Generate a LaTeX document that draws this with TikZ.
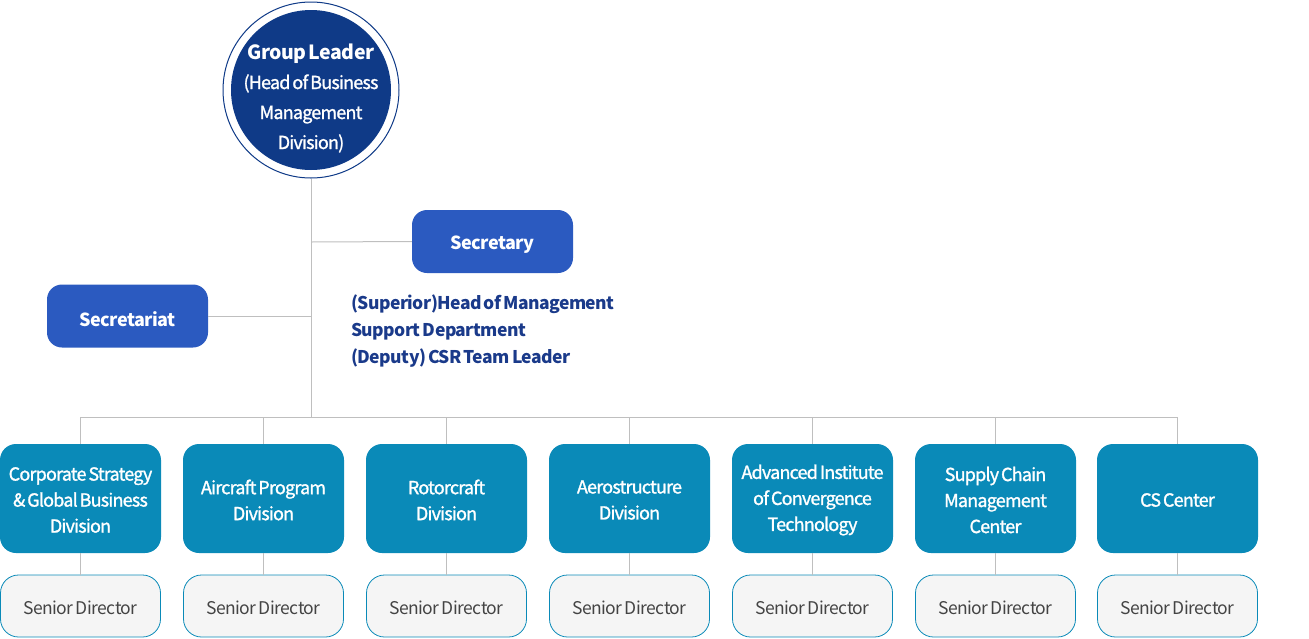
\documentclass[tikz,border=0pt]{standalone}
\usepackage{fontspec}
\setmainfont{Noto Sans CJK KR}
\newfontfamily\medf{Noto Sans CJK KR}[LetterSpace=-4.5,WordSpace=0.6,FakeBold=1.3]
\newfontfamily\bldf{Noto Sans CJK KR}[LetterSpace=-3,WordSpace=0.65]
\newfontfamily\regf{Noto Sans CJK KR}[LetterSpace=-3,WordSpace=0.6]
\definecolor{navy}{HTML}{0F3A87}
\definecolor{secblue}{HTML}{2B5AC0}
\definecolor{divblue}{HTML}{0A8AB8}
\definecolor{txtblue}{HTML}{1A3A8A}
\definecolor{linegray}{HTML}{BFBFBF}
\definecolor{sdfill}{HTML}{F5F5F5}
\definecolor{sdtext}{HTML}{444444}
\tikzset{
  conn/.style={draw=linegray, line width=1pt},
  secbox/.style={rectangle, rounded corners=15pt, fill=secblue, minimum width=161pt, minimum height=63pt, inner sep=0pt},
  sectext/.style={text=white, font=\bldf\bfseries\fontsize{18}{22}\selectfont, inner sep=0pt},
  divbox/.style={rectangle, rounded corners=16pt, fill=divblue, minimum width=161pt, minimum height=109pt, inner sep=0pt},
  divtext/.style={text=white, align=center, font=\medf\fontsize{18}{26}\selectfont, inner sep=0pt},
  sdbox/.style={rectangle, rounded corners=18pt, fill=sdfill, draw=divblue, line width=0.8pt, minimum width=160pt, minimum height=62pt, inner sep=0pt},
  sdtext/.style={text=sdtext, font=\regf\fontsize{17.5}{22}\selectfont, inner sep=0pt},
}
\begin{document}
\begin{tikzpicture}[x=1pt,y=-1pt]
\useasboundingbox (0,0) rectangle (1309,638);
% group leader
\node[circle, draw=navy, line width=1pt, minimum size=176pt, inner sep=0pt] (ring) at (311,90) {};
\node[circle, fill=navy, minimum size=160pt, inner sep=0pt] (gl) at (311,90) {};
\node[text=white, align=center, inner sep=0pt, font=\medf\fontsize{18}{30}\selectfont] (glt) at (311,98) {{\bldf\bfseries\fontsize{19.5}{30}\selectfont Group Leader}\\(Head of Business\\Management\\Division)};
% secretary
\node[secbox] (sec) at (492.5,241.5) {};
\node[sectext] (sect1) at (492.5,244.5) {Secretary};
\node[secbox] (secr) at (127.5,316) {};
\node[sectext] (secr1) at (127.5,319) {Secretariat};
\node[anchor=north west, align=left, text=txtblue, font=\bldf\bfseries\fontsize{17.5}{27}\selectfont, inner sep=0pt] (note) at (351,295) {(Superior)Head of Management\\Support Department\\(Deputy) CSR Team Leader};
\coordinate (j1) at (311,242);
\coordinate (j2) at (311,316);
\coordinate (bus) at (311,417);
\draw[conn] (ring.south) -- (bus);
\draw[conn] (j1) -- (sec.west);
\draw[conn] (j2) -- (secr.east);
% divisions
\foreach \i/\x/\t in {1/80.5/{Corporate Strategy\\\& Global Business\\Division},
                      2/263.5/{Aircraft Program\\Division},
                      3/446.5/{Rotorcraft\\Division},
                      4/629.5/{Aerostructure\\Division},
                      5/812.5/{Advanced Institute\\of Convergence\\Technology},
                      6/995.5/{Supply Chain\\Management\\Center},
                      7/1177.5/{CS Center}} {
  \node[divbox] (d\i) at (\x,498.5) {};
  \node[divtext] (dt\i) at (\x,500) {\t};
  \node[sdbox] (s\i) at (\x,606) {};
  \node[sdtext] (st\i) at (\x,608) {Senior Director};
  \coordinate (b\i) at (\x,417);
  \draw[conn] (b\i) -- (d\i.north);
  \draw[conn] (d\i.south) -- (s\i.north);
}
\draw[conn] (b1) -- (b7);
\end{tikzpicture}
\end{document}
